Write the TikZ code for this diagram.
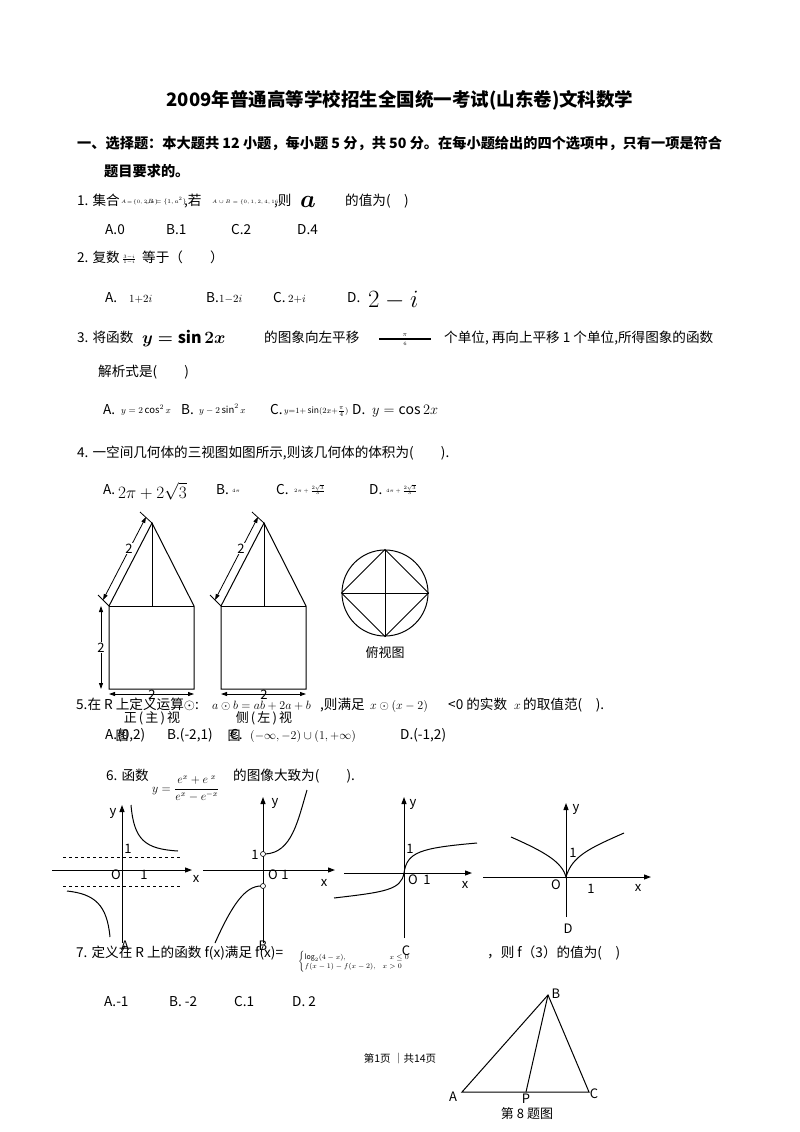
\documentclass[tikz,border=0pt]{standalone}
\usepackage{amsmath,bm}
\usepackage{fontspec}
\setmainfont{Noto Sans CJK SC}
\usetikzlibrary{arrows.meta}
\begin{document}
\begin{tikzpicture}[x=1pt,y=-1pt,
  t/.style={anchor=base west,inner sep=0,font=\fontsize{13.6}{15}\selectfont},
  tm/.style={anchor=base,inner sep=0,font=\fontsize{13}{14}\selectfont},
  mth/.style={anchor=base west,inner sep=0,font=\fontsize{#1}{#1}\selectfont},
  ln/.style={line width=1pt},
  ax/.style={line width=1pt,-{Triangle[length=7pt,width=5pt]}},
  dimar/.style={line width=0.8pt,{Triangle[length=6pt,width=4pt]}-{Triangle[length=6pt,width=4pt]}},
  curve/.style={line width=1pt},
  dsh/.style={line width=0.9pt,dashed}]
\useasboundingbox (0,0) rectangle (800,1132);
% title
\node[anchor=base,inner sep=0,font=\fontsize{18.5}{20}\selectfont\bfseries] (title) at (400,106) {2009年普通高等学校招生全国统一考试(山东卷)文科数学};
\node[t,font=\fontsize{14.2}{15}\selectfont\bfseries] (h1) at (77,148) {一、选择题：本大题共 12 小题，每小题 5 分，共 50 分。在每小题给出的四个选项中，只有一项是符合};
\node[t,font=\fontsize{14.2}{15}\selectfont\bfseries] (h2) at (104,176) {题目要求的。};
% Q1
\node[t] (q1) at (77,205) {1. 集合};
\node[mth=5] (q1a) at (121,203) {$A\!=\!\{0,2,a\}$};
\node[mth=6] (q1a2) at (146,203) {,$B=\{1,a^2\}$};
\node[t] (q1b) at (184,205) {,若};
\node[mth=5] (q1c) at (212,203) {$A\cup B=\{0,1,2,4,16\}$};
\node[t] (q1d) at (274,205) {,则};
\node[mth=24] (q1e) at (300,207) {$\bm{a}$};
\node[t] (q1f) at (345,205) {的值为(\quad )};
\node[t] (c1a) at (105,234) {A.0};
\node[t] (c1b) at (166,234) {B.1};
\node[t] (c1c) at (231,234) {C.2};
\node[t] (c1d) at (297,234) {D.4};
% Q2
\node[t] (q2) at (77,262) {2. 复数};
\node[mth=6] (q2a) at (122,261) {$\frac{3-i}{1-i}$};
\node[t] (q2b) at (142,262) {等于（\qquad ）};
\node[t] (c2a) at (105,302) {A.};
\node[mth=11] (c2a2) at (129,302) {$1{+}2i$};
\node[t] (c2b) at (206,302) {B.};
\node[mth=11] (c2b2) at (219,302) {$1{-}2i$};
\node[t] (c2c) at (273,302) {C.};
\node[mth=11] (c2c2) at (288,302) {$2{+}i$};
\node[t] (c2d) at (347,302) {D.};
\node[mth=30] (c2d2) at (368,307) {$2-i$};
% Q3
\node[t] (q3) at (77,342) {3. 将函数};
\node[mth=16] (q3a) at (142,343) {$\bm{y=\sin 2x}$};
\node[t] (q3b) at (264,342) {的图象向左平移};
\draw[line width=1.8pt] (379,339) -- (431,339);
\node[anchor=base,inner sep=0,font=\fontsize{6}{6}\selectfont] (q3fr) at (405,336) {$\pi$};
\node[anchor=base,inner sep=0,font=\fontsize{4}{4}\selectfont] (q3fr2) at (405,345) {$6$};
\node[t] (q3c) at (444,342) {个单位, 再向上平移 1 个单位,所得图象的函数};
\node[t] (q3d) at (98,376) {解析式是(\qquad )};
\node[t] (c3a) at (103,414) {A.};
\node[mth=9.5] (c3a2) at (121,413) {$y=2\cos^2x$};
\node[t] (c3b) at (181,414) {B.};
\node[mth=9.5] (c3b2) at (199,413) {$y-2\sin^2x$};
\node[t] (c3c) at (270,414) {C.};
\node[mth=8.5] (c3c2) at (284,413) {$y{=}1{+}\sin(2x{+}\frac{\pi}{4})$};
\node[t] (c3d) at (352,414) {D.};
\node[mth=14] (c3d2) at (372,414) {$y=\cos 2x$};
% Q4
\node[t] (q4) at (77,457) {4. 一空间几何体的三视图如图所示,则该几何体的体积为(\qquad ).};
\node[t] (c4a) at (103,494) {A.};
\node[mth=18] (c4a2) at (118,498) {$2\pi+2\sqrt3$};
\node[t] (c4b) at (216,494) {B.};
\node[mth=5] (c4b2) at (232,492) {$4\pi$};
\node[t] (c4c) at (276,494) {C.};
\node[mth=5] (c4c2) at (294,492) {$2\pi+\frac{2\sqrt3}{3}$};
\node[t] (c4d) at (369,494) {D.};
\node[mth=5] (c4d2) at (386,492) {$4\pi+\frac{2\sqrt3}{3}$};
% front view
\coordinate (fa) at (152,523); \coordinate (fl) at (109,606); \coordinate (fr) at (194,606);
\coordinate (fbl) at (109,689); \coordinate (fbr) at (194,689); \coordinate (fm) at (152,606);
\draw[ln] (fl) -- (fa) -- (fr) -- (fbr) -- (fbl) -- cycle;
\draw[ln] (fl) -- (fr);
\draw[ln] (fa) -- (fm);
\draw[line width=0.8pt] (140,512) -- (152,523); \draw[line width=0.8pt] (98,595) -- (109,606);
\draw[dimar] (146,517) -- (103,600);
\node[tm,fill=white,inner sep=1pt] (f2a) at (129,553) {2};
\draw[dimar] (101,606) -- (101,689);
\node[tm,fill=white,inner sep=1pt] (f2b) at (101,652) {2};
\draw[dimar] (109,694) -- (194,694);
\node[tm] (f2c) at (152,699) {2};
\node[tm] (fl1) at (152,722) {正\,(\,主\,)\,视};
\node[tm] (fl2) at (122,740) {图};
% side view
\coordinate (sa) at (264,523); \coordinate (sl) at (221,606); \coordinate (sr) at (306,606);
\coordinate (sbl) at (221,689); \coordinate (sbr) at (306,689); \coordinate (sm) at (264,606);
\draw[ln] (sl) -- (sa) -- (sr) -- (sbr) -- (sbl) -- cycle;
\draw[ln] (sl) -- (sr);
\draw[ln] (sa) -- (sm);
\draw[line width=0.8pt] (252,512) -- (264,523); \draw[line width=0.8pt] (210,595) -- (221,606);
\draw[dimar] (258,517) -- (215,600);
\node[tm,fill=white,inner sep=1pt] (s2a) at (241,553) {2};
\draw[dimar] (221,694) -- (306,694);
\node[tm] (s2c) at (264,699) {2};
\node[tm] (sl1) at (264,722) {侧\,(\,左\,)\,视};
\node[tm] (sl2) at (234,740) {图};
% top view
\node[draw,circle,line width=1pt,minimum size=86pt,inner sep=0] (cir) at (385,593) {};
\draw[ln] (cir.north) -- (cir.east) -- (cir.south) -- (cir.west) -- cycle;
\draw[ln] (cir.north) -- (cir.south); \draw[ln] (cir.west) -- (cir.east);
\node[tm] (tl) at (385,657) {俯视图};
% Q5
\node[t] (q5) at (76,709) {5.在 R 上定义运算$\odot$:};
\node[mth=13] (q5a) at (212,709) {$a\odot b=ab+2a+b$};
\node[t] (q5b) at (320,709) {,则满足};
\node[mth=13] (q5c) at (370,709) {$x\odot(x-2)$};
\node[t] (q5d) at (448,709) {<0 的实数};
\node[mth=13] (q5e) at (514,709) {$x$};
\node[t] (q5f) at (523,709) {的取值范(\quad ).};
\node[t] (c5a) at (105,739) {A.(0,2)};
\node[t] (c5b) at (167,739) {B.(-2,1)};
\node[t] (c5c) at (230,739) {C.};
\node[mth=13] (c5c2) at (250,739) {$(-\infty,-2)\cup(1,+\infty)$};
\node[t] (c5d) at (400,739) {D.(-1,2)};
% Q6
\node[t] (q6) at (106,780) {6. 函数};
\node[mth=12] (q6a) at (152,792) {$y=\dfrac{e^x+e^{\ x}}{e^x-e^{-x}}$};
\node[t] (q6b) at (233,780) {的图像大致为(\qquad ).};
% graph A
\draw[ax] (122,943) -- (122,805);
\draw[ax] (52,870) -- (192,870);
\draw[dsh] (63,857) -- (182,857); \draw[dsh] (63,886) -- (182,886);
\draw[curve] (131,805) .. controls (134,840) and (145,849) .. (178,851);
\draw[curve] (67,891) .. controls (95,894) and (107,905) .. (110,937);
\node[tm] (gay) at (113,815) {y}; \node[tm] (ga1) at (128,853) {1};
\node[tm] (gao) at (116,879) {O}; \node[tm] (ga2) at (144,879) {1};
\node[tm] (gax) at (196,882) {x}; \node[tm] (gal) at (125,950) {A};
% graph B
\draw[ax] (263,943) -- (263,797);
\draw[ax] (203,870) -- (335,870);
\draw[curve] (265,854) .. controls (292,853) and (298,820) .. (307,790);
\draw[curve] (215,943) .. controls (232,905) and (245,886) .. (261,886);
\node[draw,circle,fill=white,inner sep=0,minimum size=5pt,line width=0.6pt] (bo1) at (263,854) {};
\node[draw,circle,fill=white,inner sep=0,minimum size=5pt,line width=0.6pt] (bo2) at (263,886) {};
\node[tm] (gby) at (275,805) {y}; \node[tm] (gb1) at (255,859) {1};
\node[tm] (gbo) at (273,879) {O}; \node[tm] (gb2) at (285,879) {1};
\node[tm] (gbx) at (324,886) {x}; \node[tm] (gbl) at (263,950) {B};
% graph C
\draw[ax] (404,938) -- (404,797);
\draw[ax] (344,873) -- (472,873);
\draw[curve] (334,898) .. controls (385,892) and (401,890) .. (404,873) .. controls (407,852) and (420,848) .. (477,843);
\node[tm] (gcy) at (413,806) {y}; \node[tm] (gc1) at (410,853) {1};
\node[tm] (gco) at (413,884) {O}; \node[tm] (gc2) at (427,884) {1};
\node[tm] (gcx) at (465,888) {x}; \node[tm] (gcl) at (406,955) {C};
% graph D
\draw[ax] (566,917) -- (566,803);
\draw[ax] (483,877) -- (651,877);
\draw[curve] (511,837) .. controls (545,852) and (562,862) .. (566,877) .. controls (572,856) and (590,848) .. (624,833);
\node[tm] (gdy) at (576,811) {y}; \node[tm] (gd1) at (573,857) {1};
\node[tm] (gdo) at (556,889) {O}; \node[tm] (gd2) at (591,893) {1};
\node[tm] (gdx) at (638,891) {x}; \node[tm] (gdl) at (568,933) {D};
% Q7
\node[t] (q7) at (76,957) {7. 定义在 R 上的函数 f(x)满足 f(x)=};
\node[anchor=west,inner sep=0,font=\fontsize{7}{8}\selectfont] (q7a) at (298,962) {$\begin{cases}\log_2(4-x), & \quad x\le 0\\ f(x-1)-f(x-2), & x>0\end{cases}$};
\node[t] (q7b) at (487,957) {，则 f（3）的值为(\quad )};
\node[t] (c7a) at (104,1006) {A.-1};
\node[t] (c7b) at (169,1006) {B. -2};
\node[t] (c7c) at (234,1006) {C.1};
\node[t] (c7d) at (292,1006) {D. 2};
% footer
\node[anchor=base,inner sep=0,font=\fontsize{10.5}{12}\selectfont] (foot) at (400,1062) {第1页 ｜共14页};
% triangle Q8
\coordinate (B) at (548,995); \coordinate (A) at (462,1092); \coordinate (C) at (589,1092); \coordinate (P) at (526,1092);
\draw[ln] (A) -- (B) -- (C) -- cycle; \draw[ln] (B) -- (P);
\node[tm] (lb) at (556,998) {B}; \node[tm] (la) at (453,1101) {A};
\node[tm] (lc) at (594,1098) {C}; \node[tm] (lp) at (526,1103) {P};
\node[tm] (cap) at (527,1118) {第 8 题图};
\end{tikzpicture}
\end{document}
